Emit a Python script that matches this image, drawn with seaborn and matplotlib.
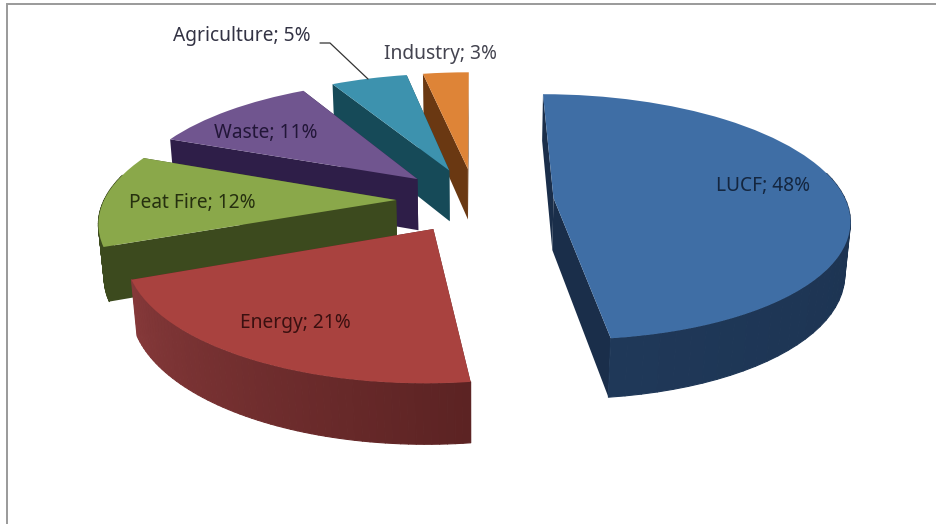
import numpy as np
import matplotlib
matplotlib.use("Agg")
import matplotlib.pyplot as plt
from matplotlib.transforms import Transform
import seaborn as sns

# Greenhouse gas emission shares by source
sources = ["LUCF", "Energy", "Peat Fire", "Waste", "Agriculture", "Industry"]
shares = [48, 21, 12, 11, 5, 3]

top_colors = ["#3F6EA5", "#A9423F", "#8AA84A", "#70558F", "#3D92AE", "#DE8437"]
side_light = ["#1F3858", "#86393A", "#3C4A1E", "#2E1E48", "#164A58", "#6A3812"]
side_dark = ["#1A2E4A", "#5C2323", "#3C4A1E", "#2E1E48", "#164A58", "#6A3812"]

sns.set_theme(style="white")
plt.rcParams["font.family"] = ["Noto Sans", "DejaVu Sans"]

# Camera model of the tilted pie, in output pixels
CX, CY = 475.0, 200.0
SCALE_X, SCALE_Y = 292.0, 120.4
RECEDE = 0.1547
THICKNESS_PX = 53.0
THICKNESS_RECEDE = 0.015


def project(x, y, drop=0.0):
    """Map pie-plane coordinates to pixels; drop=1 is the underside of the pie."""
    x, y = np.asarray(x, float), np.asarray(y, float)
    w = 1 + RECEDE * y + THICKNESS_RECEDE * drop
    return CX + SCALE_X * x / w, CY - (SCALE_Y * y - THICKNESS_PX * drop) / w


class TiltedPlane(Transform):
    input_dims = output_dims = 2
    has_inverse = False

    def transform_non_affine(self, values):
        px, py = project(values[:, 0], values[:, 1])
        return np.column_stack([px, py])


fig = plt.figure(figsize=(9.36, 5.24), dpi=100, facecolor="white")
ax = fig.add_axes([0, 0, 1, 1])

wedges, _ = ax.pie(
    shares,
    explode=[0.27] * len(shares),
    startangle=90,
    counterclock=False,
    colors=top_colors,
    wedgeprops={"linewidth": 0},
)
ax.set_aspect("auto")
ax.set_xlim(0, 936)
ax.set_ylim(524, 0)
ax.axis("off")

# Far slices are painted first so that nearer walls overlap them
paint_order = [5, 4, 3, 2, 1, 0]
plane = TiltedPlane() + ax.transData

for rank, i in enumerate(paint_order):
    wedge = wedges[i]
    cx0, cy0 = wedge.center
    base = 2 + rank * 2
    wedge.set_transform(plane)
    wedge.set_zorder(base + 1)

    # Straight cut faces from the apex out to each end of the rim
    for angle in (wedge.theta1, wedge.theta2):
        ex = cx0 + wedge.r * np.cos(np.radians(angle))
        ey = cy0 + wedge.r * np.sin(np.radians(angle))
        tx, ty = project([cx0, ex], [cy0, ey])
        bx, by = project([ex, cx0], [ey, cy0], drop=1.0)
        ax.fill(np.r_[tx, bx], np.r_[ty, by], color=side_dark[i], lw=0, zorder=base)

    # Curved outer wall, shaded from one end of the arc to the other;
    # the part of the rim facing away from the viewer is skipped
    angles = np.radians(np.linspace(wedge.theta1, wedge.theta2, 61))
    shade = sns.blend_palette([side_light[i], side_dark[i]], len(angles) - 1)
    rim_x = cx0 + wedge.r * np.cos(angles)
    rim_y = cy0 + wedge.r * np.sin(angles)
    tx, ty = project(rim_x, rim_y)
    bx, by = project(rim_x, rim_y, drop=1.0)
    for k in range(len(angles) - 1):
        if np.sin(angles[k]) > 0.2 and np.sin(angles[k + 1]) > 0.2:
            continue
        ax.fill(
            [tx[k], tx[k + 1], bx[k + 1], bx[k]],
            [ty[k], ty[k + 1], by[k + 1], by[k]],
            color=shade[k], lw=0.8, joinstyle="round", zorder=base,
        )

# Data labels, written "name; share%"
label_xy = [(763, 186), (295, 323), (192, 203), (266, 133), (242, 36), (441, 54)]
label_colors = ["#14263F", "#3A1010", "#26300F", "#221638", "#333344", "#444450"]
for name, share, (lx, ly), col in zip(sources, shares, label_xy, label_colors):
    ax.text(lx, ly, f"{name}; {share}%", ha="center", va="center",
            fontsize=13.8, color=col, zorder=30)

# Leader line from the Agriculture label to its slice
ax.plot([320, 330, 368], [43, 43, 79], color="#333333", lw=0.9, zorder=30)

# Chart area border along the left and top
ax.plot([6.5, 6.5, 936], [524, 4, 4], color="#9A9A9A", lw=1.4, zorder=1,
        solid_joinstyle="miter")

fig.savefig("out.png", dpi=100, facecolor="white")
